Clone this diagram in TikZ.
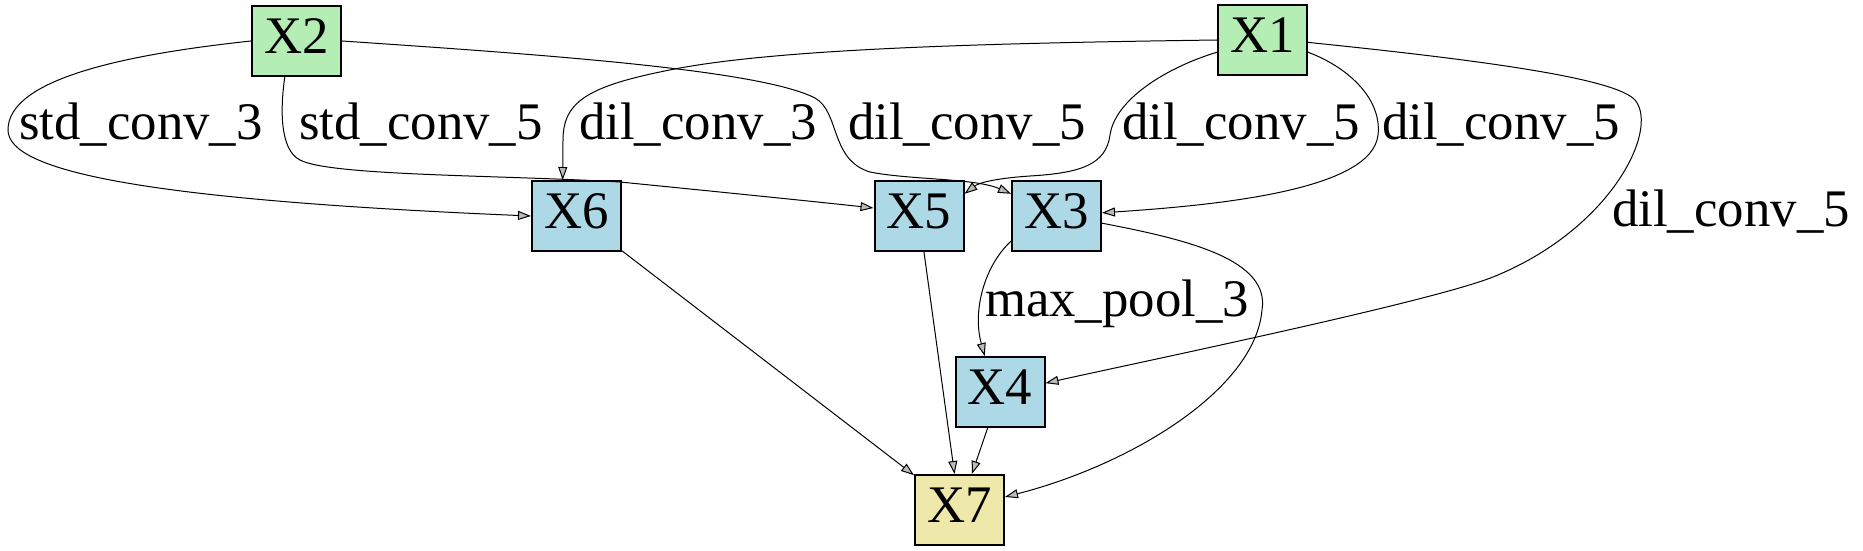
\documentclass[tikz,border=0pt]{standalone}
\usepackage{fontspec}
\setmainfont{Liberation Serif}
\usetikzlibrary{arrows.meta}
\definecolor{nodegreen}{HTML}{B4EEB4}
\definecolor{nodeblue}{HTML}{ADD8E6}
\definecolor{nodeyellow}{HTML}{EEE8AA}
\definecolor{arrowgray}{HTML}{BBBBBB}
\begin{document}
\begin{tikzpicture}[x=1bp,y=-1bp,
  box/.style={draw=black, line width=2bp, minimum width=89bp, minimum height=70bp,
    inner sep=0pt, text depth=9bp, font=\fontsize{53}{60}\selectfont},
  inbox/.style={box, fill=nodegreen},
  midbox/.style={box, fill=nodeblue},
  outbox/.style={box, fill=nodeyellow},
  lbl/.style={anchor=base, inner sep=0pt, font=\fontsize{53}{60}\selectfont},
  edge/.style={draw=black, line width=1bp,
    -{Triangle[length=13bp,width=9bp,fill=arrowgray]}}
]
\useasboundingbox (0,0) rectangle (1863,551);

% nodes
\node[inbox]  (X2) at (296.5,41) {X2};
\node[inbox]  (X1) at (1262.5,40) {X1};
\node[midbox] (X6) at (576.5,216) {X6};
\node[midbox] (X5) at (919,216) {X5};
\node[midbox] (X3) at (1056.5,216) {X3};
\node[midbox] (X4) at (1000,392) {X4};
\node[outbox] (X7) at (959.5,510) {X7};

% labels
\node[lbl] (l1) at (141,140) {std\_conv\_3};
\node[lbl] (l2) at (421,140) {std\_conv\_5};
\node[lbl] (l3) at (698,140) {dil\_conv\_3};
\node[lbl] (l4) at (967,140) {dil\_conv\_5};
\node[lbl] (l5) at (1241,140) {dil\_conv\_5};
\node[lbl] (l6) at (1501,140) {dil\_conv\_5};
\node[lbl] (l7) at (1731,227) {dil\_conv\_5};
\node[lbl] (l8) at (1117,317) {max\_pool\_3};

% edges
\draw[edge] (X2.west) .. controls (120,55) and (8,80) .. (8,130)
  .. controls (8,172) and (150,200) .. (X6.west);
\draw[edge] (X2.-108) .. controls (280,110) and (280,150) .. (300,160)
  .. controls (330,176) and (500,175) .. (620,182)
  .. controls (700,190) and (800,200) .. (X5.170);
\draw[edge] (X1.west) .. controls (1000,43) and (790,48) .. (680,68)
  .. controls (590,85) and (563,100) .. (563,140) -- (X6.111);
\draw[edge] (X2.east) .. controls (550,55) and (760,70) .. (815,98)
  .. controls (840,112) and (830,160) .. (870,172)
  .. controls (910,180) and (975,178) .. (X3.154);
\draw[edge] (X1.195) .. controls (1165,68) and (1115,100) .. (1110,135)
  .. controls (1106,165) and (1080,173) .. (1030,176)
  .. controls (1000,178) and (980,182) .. (X5.26);
\draw[edge] (X1.-15) .. controls (1350,68) and (1382,100) .. (1378,135)
  .. controls (1372,190) and (1220,205) .. (X3.4);
\draw[edge] (X1.-3) .. controls (1480,60) and (1615,78) .. (1635,100)
  .. controls (1660,130) and (1610,230) .. (1493,277)
  .. controls (1430,302) and (1150,360) .. (X4.11);
\draw[edge] (X3.209) .. controls (985,265) and (972,310) .. (X4.113);
\draw[edge] (X3.-9) .. controls (1190,240) and (1270,260) .. (1262,310)
  .. controls (1255,390) and (1130,465) .. (X7.16);
\draw[edge] (X6) -- (X7);
\draw[edge] (X5) -- (X7);
\draw[edge] (X4) -- (X7);
\end{tikzpicture}
\end{document}
